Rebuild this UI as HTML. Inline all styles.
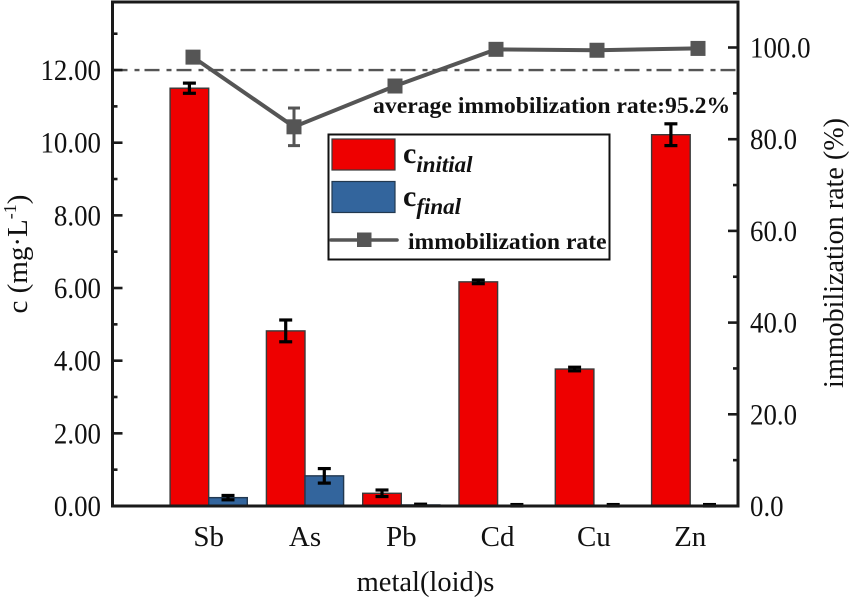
<!DOCTYPE html>
<html>
<head>
<meta charset="utf-8">
<style>
html,body{margin:0;padding:0;background:#fff;}
svg{display:block;}
text{font-family:"Liberation Serif",serif;fill:#111;}
</style>
</head>
<body>
<svg id="chart" width="851" height="599" viewBox="0 0 851 599" xmlns="http://www.w3.org/2000/svg"></svg>
<script>
const categories = ['Sb', 'As', 'Pb', 'Cd', 'Cu', 'Zn'];
const initialValues = [11.5, 4.82, 0.35, 6.17, 3.77, 10.22];
const initialErrors = [0.14, 0.3, 0.09, 0.05, 0.05, 0.3];
const finalValues = [0.23, 0.83, 0.03, 0.02, 0.02, 0.02];
const finalErrors = [0.06, 0.2, 0.02, 0.02, 0.02, 0.02];
const rateValues = [97.9, 82.7, 91.6, 99.6, 99.4, 99.8];
const rateErrors = [1.0, 4.1, 1.2, 0.8, 0.9, 0.5];
const leftMajorTicks = [0, 2, 4, 6, 8, 10, 12];
const leftMinorTicks = [1, 3, 5, 7, 9, 11, 13];
const rightMajorTicks = [0, 20, 40, 60, 80, 100];
const rightMinorTicks = [10, 30, 50, 70, 90];
const averageLineValue = 12;

const svg = document.getElementById('chart');
const NS = 'http://www.w3.org/2000/svg';
const axisLeft = 112.5, axisRight = 738, axisTop = 2, axisBottom = 506;
function yLeft(v) { return axisBottom - v * 36.33; }
function yRight(v) { return axisBottom - v * 4.585; }
function xBar(i) { return 208.7 + i * 96.3; }
function xRate(i) { return 193 + i * 101; }
function tickWidth(s) { return ((s.length - 1) * 0.5 + 0.25) * 26.9; }
const barWidth = 38.6;

function make(tag, attrs, name, text) {
  const el = document.createElementNS(NS, tag);
  for (const k in attrs) el.setAttribute(k, attrs[k]);
  
  
  if (text !== undefined) el.textContent = text;
  svg.appendChild(el);
  return el;
}
function line(x1, y1, x2, y2, stroke, w, name, extra) {
  return make('line', Object.assign({ x1, y1, x2, y2, stroke, 'stroke-width': w }, extra || {}), name);
}
function errorBar(x, yTop, yBottom, capHalf, color, w, name) {
  line(x, yTop, x, yBottom, color, w, name);
  line(x - capHalf, yTop, x + capHalf, yTop, color, w, name + '-cap-top');
  line(x - capHalf, yBottom, x + capHalf, yBottom, color, w, name + '-cap-bottom');
}

// bars
categories.forEach((c, i) => {
  const x = xBar(i);
  const key = c.toLowerCase();
  const y1 = yLeft(initialValues[i]);
  make('rect', { x: x - barWidth, y: y1, width: barWidth, height: axisBottom - y1, fill: '#ee0000', stroke: '#3a3a3a', 'stroke-width': 1.4 }, 'bar-initial-' + key);
  const y2 = yLeft(finalValues[i]);
  make('rect', { x: x, y: y2, width: barWidth, height: axisBottom - y2, fill: '#33659d', stroke: '#22384f', 'stroke-width': 1.4 }, 'bar-final-' + key);
  errorBar(x - barWidth / 2, yLeft(initialValues[i] + initialErrors[i]), yLeft(initialValues[i] - initialErrors[i]), 6.5, '#000', 3.2, 'error-initial-' + key);
  errorBar(x + barWidth / 2, yLeft(finalValues[i] + finalErrors[i]), yLeft(Math.max(finalValues[i] - finalErrors[i], 0)), 6.5, '#000', 3.2, 'error-final-' + key);
});

// average reference line
line(axisLeft, yLeft(averageLineValue), axisRight, yLeft(averageLineValue), '#555', 2.4, 'average-reference-line', { 'stroke-dasharray': '15 7 5 5' });

// rate series
const pts = rateValues.map((v, i) => xRate(i) + ',' + yRight(v)).join(' ');
make('polyline', { points: pts, fill: 'none', stroke: '#555', 'stroke-width': 4 }, 'immobilization-rate-line');
categories.forEach((c, i) => {
  const key = c.toLowerCase();
  errorBar(xRate(i), yRight(rateValues[i] + rateErrors[i]), yRight(rateValues[i] - rateErrors[i]), 6, '#555', 3, 'error-rate-' + key);
  make('rect', { x: xRate(i) - 7.5, y: yRight(rateValues[i]) - 7.5, width: 15, height: 15, fill: '#555' }, 'point-rate-' + key);
});

// frame
make('path', { d: `M${axisLeft} ${axisBottom}V${axisTop}H${axisRight}V${axisBottom}Z`, fill: 'none', stroke: '#1a1a1a', 'stroke-width': 3 }, 'plot-frame');

// left axis
leftMajorTicks.forEach(v => {
  line(axisLeft, yLeft(v), axisLeft + 10, yLeft(v), '#1a1a1a', 2.6, 'left-major-tick');
  const s = v.toFixed(2);
  make('text', { x: 101, y: yLeft(v) + 10, 'font-size': 29.5, 'text-anchor': 'end', textLength: tickWidth(s), lengthAdjust: 'spacingAndGlyphs' }, 'left-tick-label', s);
});
leftMinorTicks.forEach(v => {
  line(axisLeft, yLeft(v), axisLeft + 5, yLeft(v), '#1a1a1a', 2.6, 'left-minor-tick');
});

// right axis
rightMajorTicks.forEach(v => {
  line(axisRight - 10, yRight(v), axisRight, yRight(v), '#1a1a1a', 2.6, 'right-major-tick');
  const s = v.toFixed(1);
  make('text', { x: 750, y: yRight(v) + 10, 'font-size': 29.5, textLength: tickWidth(s), lengthAdjust: 'spacingAndGlyphs' }, 'right-tick-label', s);
});
rightMinorTicks.forEach(v => {
  line(axisRight - 5, yRight(v), axisRight, yRight(v), '#1a1a1a', 2.6, 'right-minor-tick');
});

// category labels
categories.forEach((c, i) => {
  make('text', { x: xBar(i), y: 546, 'font-size': 29, 'text-anchor': 'middle' }, 'x-tick-label', c);
});

// axis titles
make('text', { x: 425.5, y: 591, 'font-size': 28.5, 'text-anchor': 'middle' }, 'x-axis-title', 'metal(loid)s');
const yt = make('text', { transform: 'translate(27,254) rotate(-90)', 'font-size': 29, 'text-anchor': 'middle' }, 'y-axis-title-left', 'c (mg·L');
const ySup = document.createElementNS(NS, 'tspan');
ySup.setAttribute('dy', '-11');
ySup.setAttribute('font-size', '18');


ySup.textContent = '-1';
yt.appendChild(ySup);
const yClose = document.createElementNS(NS, 'tspan');
yClose.setAttribute('dy', '11');


yClose.textContent = ')';
yt.appendChild(yClose);
make('text', { transform: 'translate(843,253) rotate(-90)', 'font-size': 28.1, 'text-anchor': 'middle' }, 'y-axis-title-right', 'immobilization rate (%)');

// annotation
make('text', { x: 373, y: 113, 'font-size': 23.7, 'font-weight': 'bold' }, 'average-rate-annotation', 'average immobilization rate:95.2%');

// legend
make('rect', { x: 328.5, y: 134.5, width: 281, height: 125, fill: '#fff', stroke: '#111', 'stroke-width': 2 }, 'legend-box');
make('rect', { x: 332, y: 139, width: 63, height: 31, fill: '#ee0000', stroke: '#3a3a3a', 'stroke-width': 1.2 }, 'legend-swatch-initial');
make('rect', { x: 332, y: 181.5, width: 63, height: 31, fill: '#33659d', stroke: '#22384f', 'stroke-width': 1.2 }, 'legend-swatch-final');
line(331, 240, 397, 240, '#555', 3.6, 'legend-line-rate', { 'stroke-linecap': 'round' });
make('rect', { x: 357, y: 232.5, width: 14.5, height: 14.5, fill: '#555' }, 'legend-marker-rate');
const l1 = make('text', { x: 403, y: 163, 'font-size': 30, 'font-weight': 'bold' }, 'legend-label-initial', 'c');
const l1s = document.createElementNS(NS, 'tspan');
l1s.setAttribute('dy', '9');
l1s.setAttribute('font-size', '23');
l1s.setAttribute('font-style', 'italic');


l1s.textContent = 'initial';
l1.appendChild(l1s);
const l2 = make('text', { x: 403, y: 206, 'font-size': 30, 'font-weight': 'bold' }, 'legend-label-final', 'c');
const l2s = document.createElementNS(NS, 'tspan');
l2s.setAttribute('dy', '8');
l2s.setAttribute('font-size', '23');
l2s.setAttribute('font-style', 'italic');


l2s.textContent = 'final';
l2.appendChild(l2s);
make('text', { x: 408, y: 249, 'font-size': 23.6, 'font-weight': 'bold' }, 'legend-label-rate', 'immobilization rate');
</script>
</body>
</html>
